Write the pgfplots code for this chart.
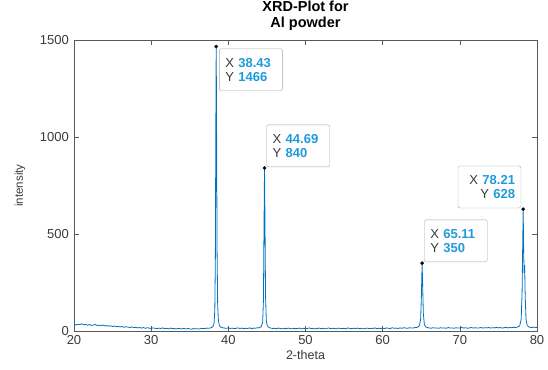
\documentclass[border=0pt]{standalone}
\usepackage{pgfplots}
\pgfplotsset{compat=1.18}
\usepackage{fontspec}
\setmainfont{Liberation Sans}
\definecolor{line}{HTML}{0072BD}
\definecolor{tipblue}{HTML}{1F9BDB}
\definecolor{axgray}{HTML}{3A3A3A}
\tikzset{tip/.style={draw=black!35, fill=white, rounded corners=1.5pt, text width=51pt, inner xsep=6pt, inner ysep=4pt, minimum height=42pt, font=\fontsize{13}{14}\selectfont, text=axgray}}
\begin{document}
\begin{tikzpicture}
\path[use as bounding box] (-74pt,-38pt) rectangle (474pt,331pt);
\begin{axis}[
  at={(0,0)}, anchor=south west,
  scale only axis, width=463pt, height=291pt,
  xmin=20, xmax=80, ymin=0, ymax=1500,
  xtick={20,30,40,50,60,70,80},
  ytick={0,500,1000,1500},
  tick align=inside, tick pos=both,
  major tick length=5pt,
  axis line style={draw=black!65},
  every tick/.style={draw=black!65},
  ticklabel style={font=\fontsize{13}{14}\selectfont, text=axgray},
  xticklabel style={yshift=-3pt, inner sep=1pt},
  /pgf/number format/assume math mode=true,
  scaled y ticks=false,
  yticklabel style={/pgf/number format/1000 sep={}, xshift=-4pt, inner sep=1pt},
  title={XRD-Plot for\\Al powder},
  title style={font=\fontsize{14.5}{16}\selectfont\bfseries, align=center, at={(axis description cs:0.5,1)}, anchor=south, yshift=0pt},
  xlabel={2-theta},
  ylabel={intensity},
  x label style={font=\fontsize{12.5}{14}\selectfont, text=axgray, at={(axis description cs:0.5,0)}, anchor=center, yshift=-24pt},
  y label style={font=\fontsize{11.5}{14}\selectfont, text=axgray, at={(axis description cs:-0.117,0.5)}, anchor=center},
]
\addplot[line, line width=0.8pt] coordinates {
(20.00,36) (20.25,31) (20.50,35) (20.75,33) (21.00,37) (21.25,32) (21.50,34) (21.75,30)
(22.00,33) (22.25,29) (22.50,31) (22.75,34) (23.00,28) (23.25,30) (23.50,27) (23.75,31)
(24.00,26) (24.25,28) (24.50,25) (24.75,27) (25.00,23) (25.25,26) (25.50,22) (25.75,24)
(26.00,21) (26.25,23) (26.50,19) (26.75,22) (27.00,20) (27.25,18) (27.50,21) (27.75,17)
(28.00,19) (28.25,16) (28.50,18) (28.75,15) (29.00,18) (29.25,14) (29.50,17) (29.75,15)
(30.00,13) (30.25,16) (30.50,14) (30.75,12) (31.00,15) (31.25,13) (31.50,16) (31.75,12)
(32.00,14) (32.25,11) (32.50,15) (32.75,12) (33.00,13) (33.25,10) (33.50,14) (33.75,12)
(34.00,11) (34.25,14) (34.50,10) (34.75,13) (35.00,11) (35.25,9) (35.50,13) (35.75,11)
(36.00,12) (36.25,10) (36.50,14) (36.75,12) (37.00,13) (37.25,15) (37.50,14) (37.75,17)
(38.00,22) (38.15,40) (38.25,110) (38.32,380) (38.38,1050) (38.43,1466) (38.48,1020)
(38.54,420) (38.62,130) (38.72,50) (38.85,28) (39.00,20) (39.25,17) (39.50,15) (39.75,14)
(40.00,16) (40.25,13) (40.50,15) (40.75,12) (41.00,14) (41.25,16) (41.50,13) (41.75,15)
(42.00,12) (42.25,14) (42.50,13) (42.75,16) (43.00,12) (43.25,15) (43.50,14) (43.75,17)
(44.00,16) (44.25,22) (44.45,45) (44.55,160) (44.62,520) (44.69,840) (44.75,560)
(44.82,190) (44.92,55) (45.05,26) (45.25,18) (45.50,15) (45.75,13)
(46.00,14) (46.25,12) (46.50,15) (46.75,13) (47.00,11) (47.25,14) (47.50,12) (47.75,15)
(48.00,13) (48.25,11) (48.50,14) (48.75,12) (49.00,13) (49.25,15) (49.50,11) (49.75,14)
(50.00,12) (50.25,13) (50.50,16) (50.75,12) (51.00,14) (51.25,11) (51.50,13) (51.75,15)
(52.00,12) (52.25,14) (52.50,11) (52.75,13) (53.00,16) (53.25,12) (53.50,14) (53.75,13)
(54.00,11) (54.25,15) (54.50,13) (54.75,12) (55.00,14) (55.25,11) (55.50,16) (55.75,13)
(56.00,12) (56.25,14) (56.50,13) (56.75,15) (57.00,12) (57.25,14) (57.50,11) (57.75,13)
(58.00,15) (58.25,12) (58.50,14) (58.75,13) (59.00,16) (59.25,12) (59.50,14) (59.75,13)
(60.00,15) (60.25,12) (60.50,16) (60.75,14) (61.00,13) (61.25,17) (61.50,14) (61.75,15)
(62.00,13) (62.25,16) (62.50,14) (62.75,17) (63.00,15) (63.25,14) (63.50,17) (63.75,15)
(64.00,16) (64.25,18) (64.50,19) (64.75,26) (64.92,60) (65.02,180) (65.11,350) (65.18,240)
(65.27,90) (65.40,35) (65.55,22) (65.75,18)
(66.00,16) (66.25,14) (66.50,17) (66.75,15) (67.00,16) (67.25,14) (67.50,17) (67.75,15)
(68.00,16) (68.25,14) (68.50,18) (68.75,15) (69.00,16) (69.25,14) (69.50,17) (69.75,15)
(70.00,16) (70.25,18) (70.50,15) (70.75,17) (71.00,14) (71.25,16) (71.50,18) (71.75,15)
(72.00,17) (72.25,15) (72.50,16) (72.75,18) (73.00,15) (73.25,17) (73.50,16) (73.75,18)
(74.00,15) (74.25,17) (74.50,16) (74.75,19) (75.00,16) (75.25,18) (75.50,15) (75.75,17)
(76.00,19) (76.25,16) (76.50,18) (76.75,17) (77.00,19) (77.25,18) (77.50,21) (77.75,26)
(77.95,60) (78.07,200) (78.15,450) (78.21,628) (78.27,420) (78.33,300) (78.40,340)
(78.47,180) (78.58,60) (78.72,30) (78.90,22) (79.10,19) (79.35,18) (79.60,20) (79.85,18) (80.00,19)
};
\node[tip, anchor=north west, align=left, xshift=3pt, yshift=-2pt] at (axis cs:38.43,1466)
  {X \textbf{\textcolor{tipblue}{38.43}}\\Y \textbf{\textcolor{tipblue}{1466}}};
\node[tip, anchor=south west, align=left, xshift=2pt, yshift=1pt] at (axis cs:44.69,840)
  {X \textbf{\textcolor{tipblue}{44.69}}\\Y \textbf{\textcolor{tipblue}{840}}};
\node[tip, anchor=south west, align=left, xshift=2pt, yshift=1pt] at (axis cs:65.11,350)
  {X \textbf{\textcolor{tipblue}{65.11}}\\Y \textbf{\textcolor{tipblue}{350}}};
\node[tip, anchor=south east, align=right, xshift=-2pt, yshift=1pt] at (axis cs:78.21,628)
  {X \textbf{\textcolor{tipblue}{78.21}}\\Y \textbf{\textcolor{tipblue}{628}}};
\addplot[only marks, mark=*, mark size=1.6pt, black] coordinates {(38.43,1466) (44.69,840) (65.11,350) (78.21,628)};
\end{axis}
\end{tikzpicture}
\end{document}
